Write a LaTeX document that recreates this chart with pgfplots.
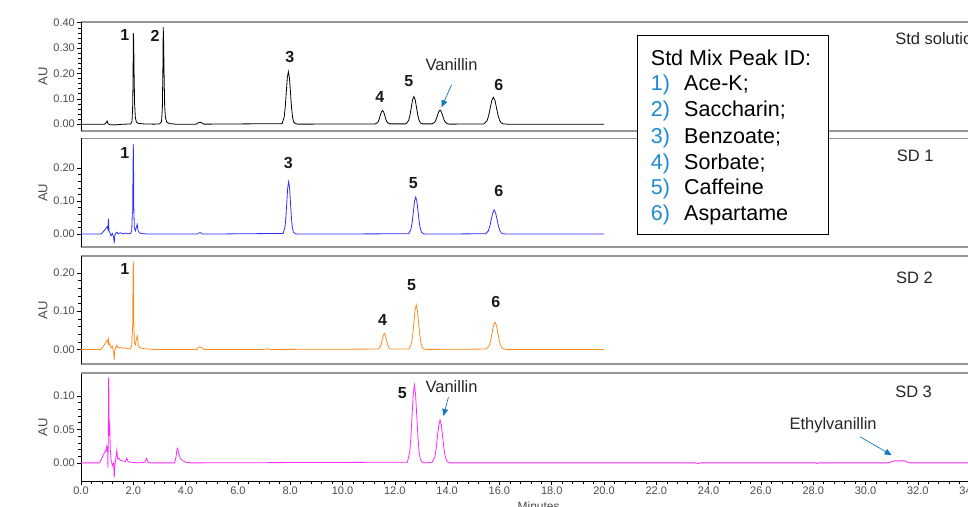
\documentclass[border=0pt]{standalone}
\usepackage{fontspec}
\setmainfont{Liberation Sans}
\usepackage{pgfplots}
\pgfplotsset{compat=1.18}
\usetikzlibrary{arrows.meta}
\definecolor{trblue}{RGB}{45,45,255}
\definecolor{trorange}{RGB}{255,140,30}
\definecolor{trmag}{RGB}{255,40,255}
\definecolor{arrblue}{RGB}{20,120,190}
\definecolor{numblue}{RGB}{30,140,210}
\definecolor{bordergray}{RGB}{150,150,150}
\pgfplotsset{
  panel/.style={
    at={(81pt,#1)}, anchor=south west,
    scale only axis, width=915.25pt,
    xmin=0, xmax=35,
    separate axis lines,
    x axis line style={draw=bordergray, line width=1.8pt},
    y axis line style={draw=black, line width=0.8pt},
    ytick pos=left,
    tick align=outside,
    major tick length=4pt, minor tick length=2.5pt,
    major tick style={black, line width=0.6pt},
    minor tick style={black, line width=0.5pt},
    minor y tick num=4,
    xtick=\empty,
    /pgf/number format/assume math mode=true,
    yticklabel style={/pgf/number format/.cd, fixed, fixed zerofill, precision=2, /tikz/.cd, font=\fontsize{11}{12}\selectfont, text=black!70, inner sep=2pt},
    ylabel=AU,
    ylabel style={at={(axis description cs:-0.0415,0.5)}, anchor=center, font=\fontsize{13}{14}\selectfont, text=black!70},
    clip mode=individual,
  },
}
\tikzset{
  pnum/.style={font=\bfseries\fontsize{16}{16}\selectfont, text=black!90},
  ann/.style={font=\fontsize{16.5}{17}\selectfont, text=black!85},
}
\begin{document}
\begin{tikzpicture}
\useasboundingbox (0,0) rectangle (968pt,506pt);
\clip (0,0) rectangle (968pt,506pt);

% ---------------- Panel 1: Std solution ----------------
\begin{axis}[panel=375pt, height=109pt, ymin=-0.027, ymax=0.403, ytick={0,0.1,0.2,0.3,0.4}]
\addplot[black, line width=0.8pt] coordinates {
(0,0) (0.9,0) (0.95,0.005) (1.0,0.012) (1.03,0.002) (1.1,-0.002) (1.3,-0.003) (1.5,-0.001) (1.7,0) (1.9,0.001)
(1.95,0.01) (1.98,0.08) (1.995,0.25) (2.0,0.36) (2.015,0.33) (2.03,0.2) (2.05,0.08) (2.08,0.025) (2.12,0.008) (2.2,0.003) (2.4,0.001) (2.8,0)
(3.0,0.001) (3.08,0.01) (3.11,0.06) (3.13,0.2) (3.145,0.384) (3.16,0.32) (3.18,0.18) (3.2,0.07) (3.23,0.025) (3.28,0.008) (3.4,0.002) (3.6,0)
(4.4,0) (4.5,0.006) (4.55,0.008) (4.6,0.006) (4.7,0)
(7.69,0.002) (7.77,0.028) (7.81,0.067) (7.85,0.126) (7.89,0.183) (7.93,0.207) (7.97,0.183) (8.01,0.126) (8.05,0.067) (8.09,0.028) (8.13,0.009) (8.2,0.002) (8.3,0)
(11.26,0.001) (11.35,0.007) (11.4,0.018) (11.44,0.033) (11.485,0.048) (11.53,0.054) (11.575,0.048) (11.62,0.033) (11.66,0.018) (11.71,0.007) (11.8,0.001)
(12.43,0.001) (12.53,0.015) (12.58,0.035) (12.63,0.066) (12.68,0.096) (12.73,0.109) (12.78,0.096) (12.83,0.066) (12.88,0.035) (12.93,0.015) (12.98,0.005) (13.05,0.001)
(13.43,0.001) (13.53,0.008) (13.58,0.018) (13.63,0.034) (13.68,0.049) (13.73,0.056) (13.78,0.049) (13.83,0.034) (13.88,0.018) (13.93,0.008) (14.0,0.002) (14.1,0)
(15.41,0.001) (15.53,0.014) (15.59,0.034) (15.65,0.064) (15.71,0.094) (15.77,0.106) (15.83,0.094) (15.89,0.064) (15.95,0.034) (16.01,0.014) (16.07,0.005) (16.15,0.001) (16.3,0)
(20,0)
};
\node[pnum] at (axis cs:1.68,0.35) {1};
\node[pnum] at (axis cs:2.83,0.35) {2};
\node[pnum] at (axis cs:7.99,0.266) {3};
\node[pnum] at (axis cs:11.43,0.109) {4};
\node[pnum] at (axis cs:12.54,0.168) {5};
\node[pnum] at (axis cs:15.98,0.155) {6};
\node[ann] at (axis cs:14.17,0.233) {Vanillin};
\draw[arrblue, line width=0.7pt, -{Triangle[length=7pt,width=6pt]}] (axis cs:14.17,0.155) -- (axis cs:13.79,0.067);
\node[ann, anchor=west, inner sep=0pt] at (axis cs:31.13,0.336) {Std solution};
\end{axis}

% ---------------- Panel 2: SD 1 ----------------
\begin{axis}[panel=259pt, height=108.5pt, ymin=-0.039, ymax=0.289, ytick={0,0.1,0.2}]
\addplot[trblue, line width=0.8pt] coordinates {
(0,0) (0.75,0) (0.82,0.004) (0.9,0.012) (0.96,0.018) (1.0,0.022) (1.03,0.015) (1.05,0.047) (1.07,0.01) (1.1,0.005) (1.15,-0.005) (1.2,0.002) (1.25,-0.01) (1.27,-0.028) (1.29,-0.005) (1.33,0.003) (1.37,0.006) (1.42,0.001) (1.5,0.004) (1.6,0.001) (1.7,0.003) (1.8,0.001) (1.9,0.002)
(1.94,0.01) (1.96,0.06) (1.975,0.065) (1.99,0.2) (2.0,0.273) (2.01,0.21) (2.02,0.08) (2.04,0.02) (2.08,0.01) (2.12,0.022) (2.15,0.029) (2.18,0.01) (2.25,0.003) (2.4,0.001) (2.6,0)
(4.45,0) (4.52,0.004) (4.58,0.004) (4.65,0)
(7.73,0.002) (7.8,0.021) (7.835,0.051) (7.87,0.096) (7.905,0.14) (7.94,0.158) (7.975,0.14) (8.01,0.096) (8.045,0.051) (8.08,0.021) (8.12,0.006) (8.2,0.001) (8.3,0)
(12.53,0.001) (12.62,0.015) (12.665,0.036) (12.71,0.068) (12.755,0.099) (12.8,0.112) (12.845,0.099) (12.89,0.068) (12.935,0.036) (12.98,0.015) (13.03,0.005) (13.1,0.001) (13.2,0)
(15.47,0.001) (15.58,0.01) (15.635,0.024) (15.69,0.044) (15.745,0.064) (15.8,0.073) (15.855,0.064) (15.91,0.044) (15.965,0.024) (16.02,0.01) (16.08,0.003) (16.15,0.001) (16.3,0)
(20,0)
};
\node[pnum] at (axis cs:1.68,0.245) {1};
\node[pnum] at (axis cs:7.93,0.215) {3};
\node[pnum] at (axis cs:12.71,0.155) {5};
\node[pnum] at (axis cs:15.98,0.13) {6};
\node[ann, anchor=west, inner sep=0pt] at (axis cs:31.19,0.238) {SD 1};
\end{axis}

% ---------------- Panel 3: SD 2 ----------------
\begin{axis}[panel=142pt, height=108pt, ymin=-0.038, ymax=0.244, ytick={0,0.1,0.2}]
\addplot[trorange, line width=0.8pt] coordinates {
(0,0) (0.75,0) (0.82,0.005) (0.9,0.013) (0.96,0.02) (1.0,0.024) (1.03,0.018) (1.05,0.026) (1.07,0.012) (1.1,0.015) (1.15,0.004) (1.2,0.008) (1.25,-0.008) (1.27,-0.028) (1.29,-0.004) (1.33,0.005) (1.37,0.011) (1.42,0.004) (1.5,0.006) (1.6,0.003) (1.7,0.004) (1.8,0.002) (1.9,0.002)
(1.94,0.01) (1.96,0.04) (1.975,0.061) (1.99,0.19) (2.0,0.23) (2.01,0.2) (2.02,0.07) (2.04,0.02) (2.08,0.012) (2.12,0.028) (2.16,0.035) (2.19,0.01) (2.25,0.004) (2.4,0.002) (2.6,0.001) (2.8,0)
(4.42,0) (4.5,0.006) (4.55,0.007) (4.62,0.004) (4.72,0)
(7.0,0) (7.1,0.002) (7.2,0)
(11.36,0.001) (11.44,0.006) (11.48,0.014) (11.52,0.025) (11.56,0.037) (11.6,0.042) (11.64,0.037) (11.68,0.025) (11.72,0.014) (11.76,0.006) (11.82,0.001)
(12.55,0.001) (12.64,0.016) (12.685,0.038) (12.73,0.07) (12.775,0.102) (12.82,0.116) (12.865,0.102) (12.91,0.07) (12.955,0.038) (13.0,0.016) (13.05,0.005) (13.12,0.001) (13.2,0)
(15.5,0.001) (15.61,0.01) (15.665,0.023) (15.72,0.043) (15.775,0.063) (15.83,0.071) (15.885,0.063) (15.94,0.043) (15.995,0.023) (16.05,0.01) (16.11,0.003) (16.2,0.001) (16.3,0)
(20,0)
};
\node[pnum] at (axis cs:1.68,0.209) {1};
\node[pnum] at (axis cs:11.53,0.078) {4};
\node[pnum] at (axis cs:12.64,0.167) {5};
\node[pnum] at (axis cs:15.86,0.124) {6};
\node[ann, anchor=west, inner sep=0pt] at (axis cs:31.16,0.186) {SD 2};
\end{axis}

% ---------------- Panel 4: SD 3 ----------------
\begin{axis}[panel=25pt, height=108pt, ymin=-0.027, ymax=0.134, ytick={0,0.05,0.1},
  axis x line*=bottom,
  x axis line style={draw=black, line width=0.8pt},
  xtick={0,2,...,34}, minor x tick num=4,
  xticklabel style={/pgf/number format/.cd, fixed, fixed zerofill, precision=1, /tikz/.cd, font=\fontsize{11}{12}\selectfont, text=black!70, inner sep=2pt},
  xlabel=Minutes,
  xlabel style={at={(axis description cs:0.5,0)}, anchor=center, yshift=-25pt, font=\fontsize{12}{13}\selectfont, text=black!70}]
\addplot[trmag, line width=0.8pt] coordinates {
(0,0) (0.7,0) (0.78,0.005) (0.85,0.012) (0.92,0.017) (0.96,0.02) (0.98,0.024) (1.0,0.016) (1.02,0.025) (1.03,-0.008) (1.045,0.05) (1.055,0.127) (1.065,0.11) (1.08,0.04) (1.1,0.06) (1.12,0.02) (1.15,0.005) (1.2,-0.004) (1.25,0) (1.27,-0.022) (1.3,-0.002) (1.33,0.006) (1.37,0.019) (1.4,0.006) (1.45,0.007) (1.5,0.004) (1.6,0.003) (1.7,0.002) (1.75,0.007) (1.8,0.002) (1.9,0.001) (2.2,0) (2.45,0.001) (2.5,0.007) (2.53,0.005) (2.57,0.001) (2.65,0)
(3.58,0) (3.63,0.008) (3.67,0.02) (3.7,0.022) (3.74,0.013) (3.8,0.007) (3.9,0.003) (4.0,0.001) (4.2,0)
(12.48,0.001) (12.57,0.016) (12.615,0.038) (12.66,0.07) (12.705,0.102) (12.75,0.116) (12.795,0.102) (12.84,0.07) (12.885,0.038) (12.93,0.016) (12.98,0.005) (13.05,0.001) (13.15,0)
(13.43,0.001) (13.53,0.009) (13.58,0.021) (13.63,0.039) (13.68,0.056) (13.73,0.064) (13.78,0.056) (13.83,0.039) (13.88,0.021) (13.93,0.009) (14.0,0.002) (14.1,0)
(23.5,0) (23.6,-0.001) (23.7,0) (28.1,0) (28.15,-0.001) (28.2,0) (30.9,0) (31.0,0.002) (31.1,0.003) (31.5,0.003) (31.6,0.001) (31.7,0) (35,0)
};
\draw[bordergray, line width=1.8pt] (rel axis cs:0,1) -- (rel axis cs:1,1);
\node[pnum] at (axis cs:12.29,0.104) {5};
\node[ann] at (axis cs:14.17,0.114) {Vanillin};
\draw[arrblue, line width=0.7pt, -{Triangle[length=7pt,width=6pt]}] (axis cs:14.05,0.098) -- (axis cs:13.86,0.07);
\node[ann] at (axis cs:28.76,0.056) {Ethylvanillin};
\draw[arrblue, line width=0.7pt, -{Triangle[length=7pt,width=6pt]}] (axis cs:29.79,0.039) -- (axis cs:31.0,0.0115);
\node[ann, anchor=west, inner sep=0pt] at (axis cs:31.13,0.106) {SD 3};
\end{axis}

% ---------------- Legend box ----------------
\draw[black, line width=1pt, fill=white] (637.3pt,470pt) rectangle (828.3pt,271pt);
\begin{scope}[every node/.style={anchor=base west, inner sep=0pt, font=\fontsize{21.5}{22}\selectfont}]
\node at (650.7pt,440.5pt) {Std Mix Peak ID:};
\node[text=numblue] at (650.7pt,415.2pt) {1)}; \node at (684pt,415.2pt) {Ace-K;};
\node[text=numblue] at (650.7pt,389.2pt) {2)}; \node at (684pt,389.2pt) {Saccharin;};
\node[text=numblue] at (650.7pt,362.8pt) {3)}; \node at (684pt,362.8pt) {Benzoate;};
\node[text=numblue] at (650.7pt,336.5pt) {4)}; \node at (684pt,336.5pt) {Sorbate;};
\node[text=numblue] at (650.7pt,311.2pt) {5)}; \node at (684pt,311.2pt) {Caffeine};
\node[text=numblue] at (650.7pt,285.8pt) {6)}; \node at (684pt,285.8pt) {Aspartame};
\end{scope}
\end{tikzpicture}
\end{document}
